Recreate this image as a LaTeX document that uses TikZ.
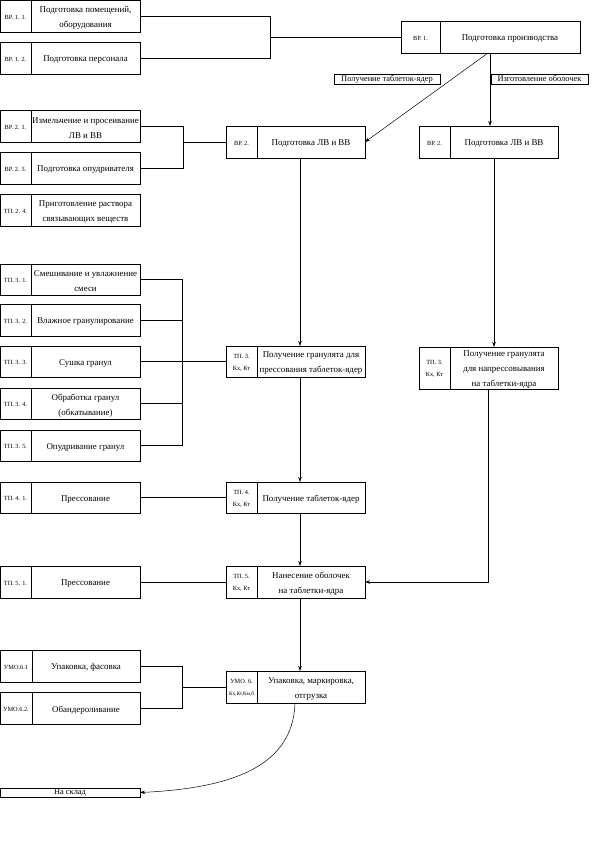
\documentclass[tikz,border=0pt]{standalone}
\usepackage{fontspec}
\setmainfont{Liberation Serif}
\usetikzlibrary{arrows.meta,calc}
\tikzset{
  codebox/.style={draw, line width=0.8pt, anchor=north west, outer sep=0pt, inner sep=0pt},
  codetext/.style={align=center, inner sep=0pt, yshift=-1pt, font=\fontsize{6.3}{12}\selectfont},
  textbox/.style={draw, line width=0.8pt, anchor=north west, outer sep=0pt, inner sep=0pt},
  tlabel/.style={align=center, inner sep=0pt, yshift=-1.8pt, font=\fontsize{8.9}{15}\selectfont},
  labbox/.style={draw, line width=0.6pt, anchor=north west, outer sep=0pt, inner sep=0pt,
    align=center, font=\fontsize{8.4}{9}\selectfont, minimum height=10pt},
  conn/.style={line width=0.8pt},
  arr/.style={line width=0.8pt, -{Stealth[length=5pt,width=3.5pt]}},
  thinarr/.style={line width=0.5pt, -{Stealth[length=5pt,width=3.5pt]}}
}
% #1 name, #2 x, #3 y(top), #4 code width, #5 total width, #6 height, #7 code, #8 text
\newcommand\pbox[8]{%
  \node[codebox, minimum width=#4pt, minimum height=#6pt, label={[codetext]center:#7}] (#1c) at (#2,#3) {};
  \node[textbox, minimum width=\the\numexpr#5-#4\relax pt, minimum height=#6pt, label={[tlabel]center:#8}] (#1) at (#1c.north east) {};}
\begin{document}
\begin{tikzpicture}[x=1pt,y=-1pt]
\useasboundingbox (0,0) rectangle (595,841);
% top level
\pbox{b11}{0}{0}{31}{140}{32}{ВР. 1. 1.}{Подготовка помещений,\\оборудования}
\pbox{b12}{0}{42}{31}{140}{32}{ВР. 1. 2.}{Подготовка персонала}
\pbox{b1}{401}{21}{39}{179}{32}{ВР. 1.}{Подготовка производства}
\node[labbox, minimum width=106pt] (lab1) at (334,74) {Получение таблеток-ядер};
\node[labbox, minimum width=97pt] (lab2) at (491,74) {Изготовление оболочек};
% group 2
\pbox{b21}{0}{110}{31}{140}{32}{ВР. 2. 1.}{Измельчение и просеивание\\ЛВ и ВВ}
\pbox{b23}{0}{152}{31}{140}{32}{ВР. 2. 3.}{Подготовка опудривателя}
\pbox{b24}{0}{194}{31}{140}{32}{ТП. 2. 4.}{Приготовление раствора\\связывающих веществ}
\pbox{b2}{226}{126}{31}{139}{32}{ВР. 2.}{Подготовка ЛВ и ВВ}
\pbox{b2r}{419}{126}{31}{139}{32}{ВР. 2.}{Подготовка ЛВ и ВВ}
% group 3
\pbox{b31}{0}{264}{31}{140}{31}{ТП. 3. 1.}{Смешивание и увлажнение\\смеси}
\pbox{b32}{0}{304}{31}{140}{32}{ТП. 3. 2.}{Влажное гранулирование}
\pbox{b33}{0}{346}{31}{140}{31}{ТП. 3. 3.}{Сушка гранул}
\pbox{b34}{0}{388}{31}{140}{31}{ТП. 3. 4.}{Обработка гранул\\(обкатывание)}
\pbox{b35}{0}{430}{31}{140}{31}{ТП. 3. 5.}{Опудривание гранул}
\pbox{b3}{226}{346}{31}{139}{31}{ТП. 3.\\Кх, Кт}{Получение гранулята для\\прессования таблеток-ядер}
\pbox{b3r}{419}{347}{31}{139}{42}{ТП. 3.\\Кх, Кт}{\fontsize{8.9}{14}\selectfont Получение гранулята\\для напрессовывания\\на таблетки-ядра}
% group 4, 5
\pbox{b41}{0}{482}{31}{140}{31}{ТП. 4. 1.}{Прессование}
\pbox{b4}{226}{482}{31}{139}{31}{ТП. 4.\\Кх, Кт}{Получение таблеток-ядер}
\pbox{b51}{0}{566}{31}{140}{32}{ТП. 5. 1.}{Прессование}
\pbox{b5}{226}{566}{31}{139}{32}{ТП. 5.\\Кх, Кт}{Нанесение оболочек\\на таблетки-ядра}
% group 6
\pbox{b61}{0}{650}{32}{140}{32}{УМО.6.1}{Упаковка, фасовка}
\pbox{b62}{0}{692}{32}{140}{32}{УМО.6.2.}{Обандероливание}
\pbox{b6}{226}{671}{31}{139}{32}{УМО. 6.\\{\fontsize{5.3}{12}\selectfont Кх,Кт,Км,б}}{Упаковка, маркировка,\\отгрузка}
\node[labbox, line width=0.8pt, minimum width=140pt, minimum height=9pt] (sklad) at (0,788) {На склад};
% connectors
\coordinate (j1) at (270,37);
\draw[conn] (b11.east) -| (j1);
\draw[conn] (b12.east) -| (j1);
\draw[conn] (j1) -- (b1c.west);
\draw[thinarr] ([xshift=-22pt]b1.south) -- (b2.east);
\draw[arr] ([xshift=-20pt]b1.south) -- ([xshift=-20pt]b1.south |- b2r.north);
\coordinate (j2) at (183,142);
\draw[conn] (b21.east) -| (j2);
\draw[conn] (b23.east) -| (j2);
\draw[conn] (j2) -- (b2c.west);
\draw[arr] ([xshift=-11pt]b2.south) -- ([xshift=-11pt]b3.north);
\draw[arr] ([xshift=-10pt]b2r.south) -- ([xshift=-10pt]b3r.north);
\coordinate (j3) at (182,361.5);
\draw[conn] (b31.east) -| (j3);
\draw[conn] (b32.east) -| (j3);
\draw[conn] (b33.east) -- (j3);
\draw[conn] (b34.east) -| (j3);
\draw[conn] (b35.east) -| (j3);
\draw[conn] (j3) -- (b3c.west);
\draw[arr] ([xshift=-11pt]b3.south) -- ([xshift=-11pt]b4.north);
\draw[conn] (b41.east) -- (b4c.west);
\draw[arr] ([xshift=-11pt]b4.south) -- ([xshift=-11pt]b5.north);
\draw[conn] (b51.east) -- (b5c.west);
\draw[arr] ([xshift=38pt]b3rc.south east) |- (b5.east);
\draw[arr] ([xshift=-11pt]b5.south) -- ([xshift=-11pt]b6.north);
\coordinate (j6) at (182,687);
\draw[conn] (b61.east) -| (j6);
\draw[conn] (b62.east) -| (j6);
\draw[conn] (j6) -- (b6c.west);
\draw[thinarr] ([xshift=-16pt]b6.south) .. controls (293,765) and (235,788) .. (sklad.east);
\end{tikzpicture}
\end{document}
